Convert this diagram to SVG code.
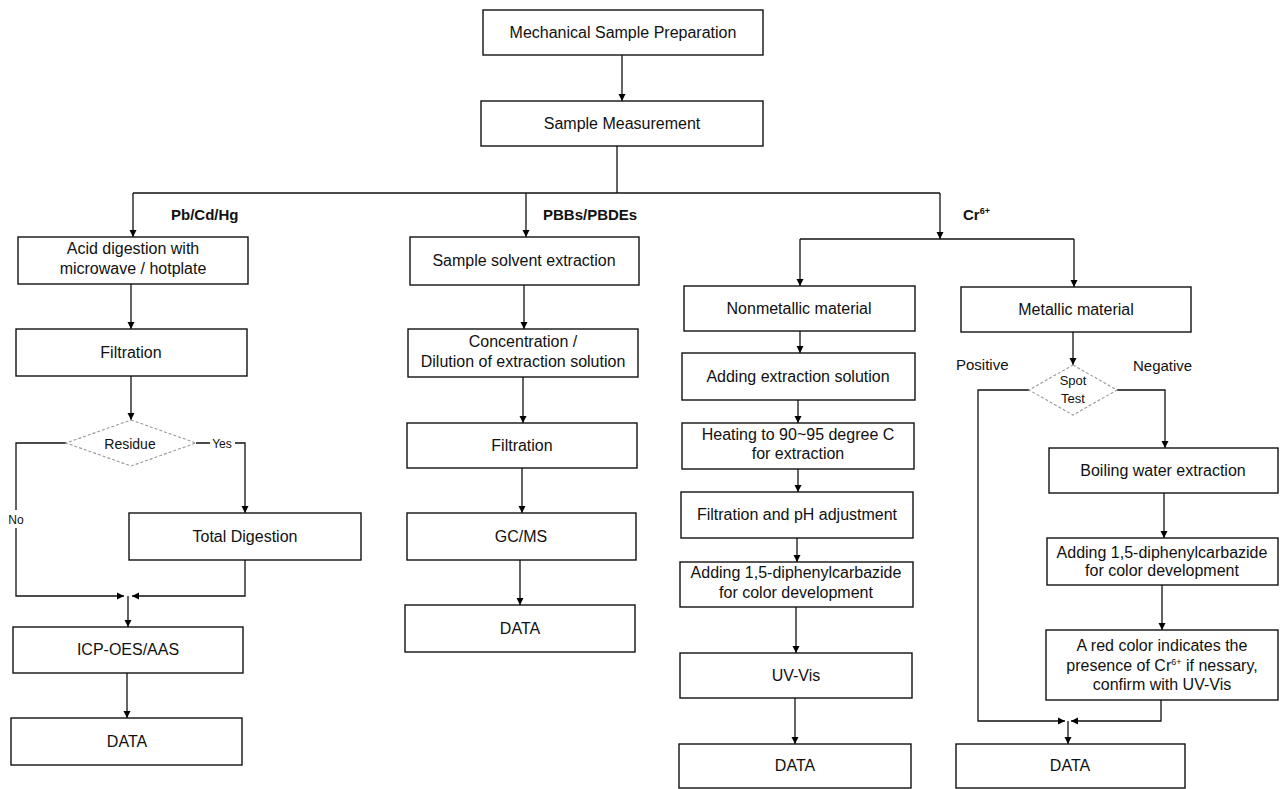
<svg xmlns="http://www.w3.org/2000/svg" width="1280" height="789" viewBox="0 0 1280 789">
<defs>
<marker id="arr" viewBox="0 0 10 10" refX="10" refY="5" markerWidth="7" markerHeight="8" markerUnits="userSpaceOnUse" orient="auto">
<path d="M0,0 L10,5 L0,10 z" fill="#000"/>
</marker>
</defs>
<style>
.box{fill:#fff;stroke:#111;stroke-width:1.4}
.dia{fill:#fff;stroke:#999;stroke-width:1.1;stroke-dasharray:3 2}
.t{font-family:"Liberation Sans",Arial,sans-serif;font-size:16px;fill:#111;text-anchor:middle}
.s{font-family:"Liberation Sans",Arial,sans-serif;font-size:13px;fill:#111;text-anchor:middle}
.lab{font-family:"Liberation Sans",Arial,sans-serif;font-size:15px;font-weight:bold;fill:#111}
.c{fill:none;stroke:#111;stroke-width:1.3}
.a{fill:none;stroke:#111;stroke-width:1.3;marker-end:url(#arr)}
</style>
<rect width="1280" height="789" fill="#fff"/>

<g id="connectors">
<path class="a" d="M622,55 V101"/>
<path class="c" d="M617,146 V193 M133,193 H940"/>
<path class="a" d="M133,193 V237"/>
<path class="a" d="M526,193 V237"/>
<path class="a" d="M940,193 V239"/>
<path class="c" d="M800,239 H1074"/>
<path class="a" d="M800,239 V286"/>
<path class="a" d="M1074,239 V287"/>
<path class="a" d="M131,284 V329"/>
<path class="a" d="M131,376 V420"/>
<path class="a" d="M66,443 H16 V596 H124"/>
<path class="a" d="M196,443 H245 V513"/>
<path class="a" d="M245,560 V596 H132"/>
<path class="a" d="M128,596 V627"/>
<path class="a" d="M127,673 V718"/>
<path class="a" d="M524,285 V329"/>
<path class="a" d="M523,377 V423"/>
<path class="a" d="M522,468 V513"/>
<path class="a" d="M520,560 V605"/>
<path class="a" d="M800,331 V353"/>
<path class="a" d="M798,400 V423"/>
<path class="a" d="M798,469 V492"/>
<path class="a" d="M797,538 V562"/>
<path class="a" d="M796,607 V653"/>
<path class="a" d="M795,698 V744"/>
<path class="a" d="M1073,332 V365"/>
<path class="a" d="M1029,390 H978 V721 H1065"/>
<path class="a" d="M1117,390 H1165 V448"/>
<path class="a" d="M1164,493 V538"/>
<path class="a" d="M1162,585 V630"/>
<path class="a" d="M1161,700 V721 H1071"/>
<path class="a" d="M1068,721 V744"/>
<rect x="6" y="510" width="20" height="18" fill="#fff"/>
<text class="s" x="16" y="524" style="font-size:12px">No</text>
<rect x="210" y="436" width="25" height="15" fill="#fff"/>
<text class="s" x="222" y="448" style="font-size:12px">Yes</text>
<text class="t" x="956" y="370" style="text-anchor:start;font-size:15px">Positive</text>
<text class="t" x="1133" y="371" style="text-anchor:start;font-size:15px">Negative</text>
</g>

<g id="labels">
<text class="lab" x="171" y="220">Pb/Cd/Hg</text>
<text class="lab" x="543" y="220">PBBs/PBDEs</text>
<text class="lab" x="963" y="220">Cr<tspan font-size="9" dy="-6">6+</tspan></text>
</g>

<g id="n-mech"><rect class="box" x="483" y="10" width="280" height="45"/><text class="t" x="623" y="38">Mechanical Sample Preparation</text></g>
<g id="n-meas"><rect class="box" x="481" y="101" width="282" height="45"/><text class="t" x="622" y="129">Sample Measurement</text></g>

<g id="n-acid"><rect class="box" x="18" y="237" width="230" height="47"/><text class="t" x="133" y="254">Acid digestion with</text><text class="t" x="133" y="274">microwave / hotplate</text></g>
<g id="n-filt1"><rect class="box" x="16" y="329" width="231" height="47"/><text class="t" x="131" y="358">Filtration</text></g>
<g id="n-residue"><polygon class="dia" points="131,420 196,443 131,466 66,443"/><text class="s" x="130" y="449" style="font-size:14px">Residue</text></g>
<g id="n-total"><rect class="box" x="129" y="513" width="232" height="47"/><text class="t" x="245" y="542">Total Digestion</text></g>
<g id="n-icp"><rect class="box" x="13" y="627" width="230" height="46"/><text class="t" x="128" y="655">ICP-OES/AAS</text></g>
<g id="n-data1"><rect class="box" x="11" y="718" width="231" height="47"/><text class="t" x="127" y="747">DATA</text></g>

<g id="n-solvent"><rect class="box" x="410" y="237" width="229" height="48"/><text class="t" x="524" y="266">Sample solvent extraction</text></g>
<g id="n-conc"><rect class="box" x="408" y="329" width="230" height="48"/><text class="t" x="523" y="347">Concentration /</text><text class="t" x="523" y="367">Dilution of extraction solution</text></g>
<g id="n-filt2"><rect class="box" x="407" y="423" width="230" height="45"/><text class="t" x="522" y="451">Filtration</text></g>
<g id="n-gcms"><rect class="box" x="407" y="513" width="229" height="47"/><text class="t" x="521" y="542">GC/MS</text></g>
<g id="n-data2"><rect class="box" x="405" y="605" width="230" height="47"/><text class="t" x="520" y="634">DATA</text></g>

<g id="n-nonmet"><rect class="box" x="684" y="286" width="231" height="45"/><text class="t" x="799" y="314">Nonmetallic material</text></g>
<g id="n-addext"><rect class="box" x="682" y="353" width="233" height="47"/><text class="t" x="798" y="382">Adding extraction solution</text></g>
<g id="n-heat"><rect class="box" x="682" y="423" width="232" height="46"/><text class="t" x="798" y="440">Heating to 90~95 degree C</text><text class="t" x="798" y="459">for extraction</text></g>
<g id="n-filtph"><rect class="box" x="681" y="492" width="232" height="46"/><text class="t" x="797" y="520">Filtration and pH adjustment</text></g>
<g id="n-dpc1"><rect class="box" x="680" y="562" width="233" height="45"/><text class="t" x="796" y="578">Adding 1,5-diphenylcarbazide</text><text class="t" x="796" y="598">for color development</text></g>
<g id="n-uvvis"><rect class="box" x="680" y="653" width="232" height="45"/><text class="t" x="796" y="681">UV-Vis</text></g>
<g id="n-data3"><rect class="box" x="679" y="744" width="232" height="44"/><text class="t" x="795" y="771">DATA</text></g>

<g id="n-metal"><rect class="box" x="961" y="287" width="230" height="45"/><text class="t" x="1076" y="315">Metallic material</text></g>
<g id="n-spot"><polygon class="dia" points="1073,365 1117,390 1073,415 1029,390"/><text class="s" x="1073" y="385">Spot</text><text class="s" x="1073" y="403">Test</text></g>
<g id="n-boil"><rect class="box" x="1049" y="448" width="229" height="45"/><text class="t" x="1163" y="476">Boiling water extraction</text></g>
<g id="n-dpc2"><rect class="box" x="1047" y="538" width="231" height="47"/><text class="t" x="1162" y="558">Adding 1,5-diphenylcarbazide</text><text class="t" x="1162" y="576">for color development</text></g>
<g id="n-red"><rect class="box" x="1046" y="630" width="232" height="70"/><text class="t" x="1162" y="651">A red color indicates the</text><text class="t" x="1162" y="671">presence of Cr<tspan font-size="9" dy="-6">6+</tspan><tspan dy="6"> if nessary,</tspan></text><text class="t" x="1162" y="690">confirm with UV-Vis</text></g>
<g id="n-data4"><rect class="box" x="956" y="744" width="229" height="44"/><text class="t" x="1070" y="771">DATA</text></g>
</svg>
